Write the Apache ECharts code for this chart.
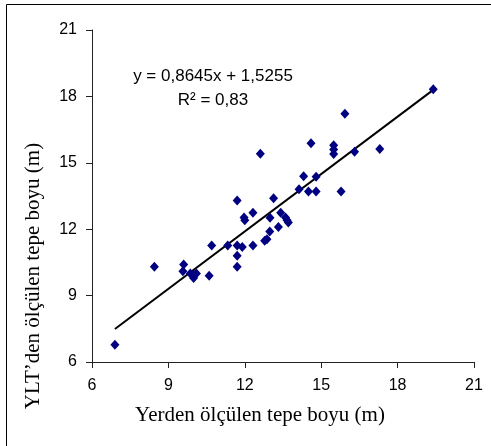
<!DOCTYPE html>
<html>
<head>
<meta charset="utf-8">
<script src="https://cdn.jsdelivr.net/npm/echarts@6/dist/echarts.min.js"></script>
<style>
  html, body { margin: 0; padding: 0; background: #fff; }
  #chart { width: 491px; height: 446px; }
</style>
</head>
<body>
<div id="chart"></div>
<script>
// ground-measured height (x) vs LiDAR-measured height (y)
const groundHeight = [6.9, 8.45, 9.6, 9.57, 9.86, 9.99, 9.99, 10.1, 10.6, 10.7, 11.33, 11.7, 11.7, 11.7, 11.7,
  11.9, 11.97, 12.0, 12.32, 12.32, 12.61, 12.78, 12.87, 12.98, 12.99, 13.13, 13.32, 13.41, 13.6, 13.66,
  13.71, 14.13, 14.31, 14.5, 14.6, 14.8, 14.8, 15.49, 15.49, 15.49, 15.78, 15.93, 16.31, 17.3, 19.4];
const lidarHeight = [6.78, 10.3, 10.4, 10.1, 10.0, 9.8, 9.95, 10.0, 9.9, 11.26, 11.26, 13.3, 11.26, 10.8, 10.3,
  11.2, 12.53, 12.4, 12.74, 11.26, 15.41, 11.48, 11.55, 11.9, 12.52, 13.4, 12.1, 12.74, 12.53, 12.4,
  12.3, 13.81, 14.39, 13.7, 15.88, 14.37, 13.7, 15.79, 15.6, 15.4, 13.7, 17.22, 15.5, 15.62, 18.32];

const slope = 0.8645;
const intercept = 1.5255;
const trendX = [6.9, 19.4];

const axisTicks = [6, 9, 12, 15, 18, 21];

const points = groundHeight.map((x, i) => [x, lidarHeight[i]]);
const trend = trendX.map(x => [x, slope * x + intercept]);

const chart = echarts.init(document.getElementById('chart'));

const axisBase = {
  type: 'value',
  min: axisTicks[0],
  max: axisTicks[axisTicks.length - 1],
  interval: 3,
  splitLine: { show: false },
  axisLine: { show: true, lineStyle: { color: '#222', width: 1 } },
  axisTick: { show: true, inside: false, length: 6, lineStyle: { color: '#222' } },
};

chart.setOption({
  animation: false,
  grid: { left: 92, right: 17, top: 30, bottom: 84 },
  xAxis: Object.assign({}, axisBase, {
    axisLabel: { margin: 16, color: '#000', fontFamily: 'Liberation Sans, Arial', fontSize: 16 }
  }),
  yAxis: Object.assign({}, axisBase, {
    axisLabel: { margin: 15, color: '#000', fontFamily: 'Liberation Sans, Arial', fontSize: 16 }
  }),
  series: [
    {
      type: 'line',
      data: trend,
      showSymbol: false,
      lineStyle: { color: '#000', width: 2 },
      z: 2
    },
    {
      type: 'scatter',
      data: points,
      symbol: 'diamond',
      symbolSize: [9, 10],
      itemStyle: { color: '#000080', opacity: 1 },
      z: 3
    }
  ],
  graphic: [
    {
      type: 'line',
      shape: { x1: 6.5, y1: 4.5, x2: 491, y2: 4.5 },
      style: { stroke: '#000', lineWidth: 1 }
    },
    {
      type: 'line',
      shape: { x1: 6.5, y1: 4.5, x2: 6.5, y2: 446 },
      style: { stroke: '#000', lineWidth: 1 }
    },
    {
      type: 'text',
      x: 213, y: 76,
      style: {
        text: 'y = 0,8645x + 1,5255',
        textAlign: 'center', textVerticalAlign: 'middle',
        font: '17px "Liberation Sans", Arial', fill: '#000'
      }
    },
    {
      type: 'text',
      x: 213, y: 100,
      style: {
        text: 'R² = 0,83',
        textAlign: 'center', textVerticalAlign: 'middle',
        font: '17px "Liberation Sans", Arial', fill: '#000'
      }
    },
    {
      type: 'text',
      x: 260, y: 415,
      style: {
        text: 'Yerden ölçülen tepe boyu (m)',
        textAlign: 'center', textVerticalAlign: 'middle',
        font: '21px "Liberation Serif", "Times New Roman"', fill: '#000'
      }
    },
    {
      type: 'text',
      x: 33, y: 276,
      rotation: Math.PI / 2,
      style: {
        text: 'YLT’den ölçülen tepe boyu (m)',
        textAlign: 'center', textVerticalAlign: 'middle',
        font: '21px "Liberation Serif", "Times New Roman"', fill: '#000'
      }
    }
  ]
});
</script>
</body>
</html>
